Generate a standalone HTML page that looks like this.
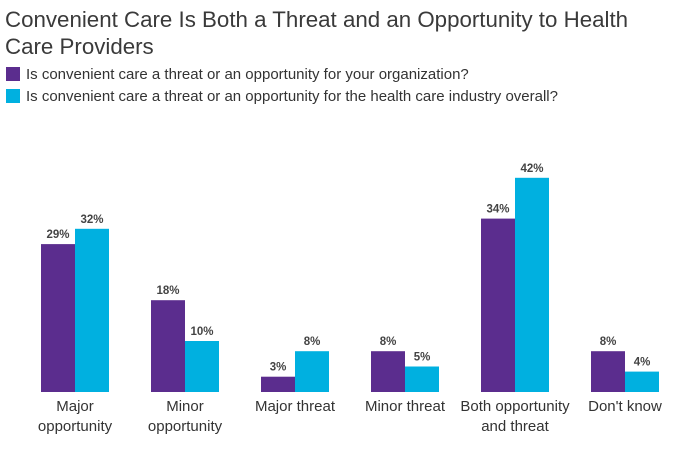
<!DOCTYPE html>
<html><head><meta charset="utf-8"><style>
body{margin:0;background:#fff;width:677px;height:445px;overflow:hidden;font-family:"Liberation Sans",sans-serif;}
</style></head><body>
<svg width="677" height="445">
<text x="5" y="27" font-size="22.3" fill="#3a3a3a">Convenient Care Is Both a Threat and an Opportunity to Health</text>
<text x="5" y="54" font-size="22.3" fill="#3a3a3a">Care Providers</text>
<rect x="6" y="67" width="14" height="14" fill="#5b2d8e"/>
<text x="26" y="79" font-size="15" fill="#333">Is convenient care a threat or an opportunity for your organization?</text>
<rect x="6" y="89" width="14" height="14" fill="#00b0e0"/>
<text x="26" y="101" font-size="15" fill="#333">Is convenient care a threat or an opportunity for the health care industry overall?</text>
<g id="bars"></g>
</svg>
<script>
const categories=[["Major","opportunity"],["Minor","opportunity"],["Major threat"],["Minor threat"],["Both opportunity","and threat"],["Don't know"]];
const orgValues=[29,18,3,8,34,8];
const industryValues=[32,10,8,5,42,4];
const base=392, scale=5.1, x0=41, step=110, bw=34;
const y=v=>base-v*scale;
const g=document.getElementById('bars');
const ns="http://www.w3.org/2000/svg";
function mk(t,a){const e=document.createElementNS(ns,t);for(const k in a)e.setAttribute(k,a[k]);g.appendChild(e);return e;}
categories.forEach((c,i)=>{
  const gx=x0+i*step;
  [[orgValues[i],"#5b2d8e",0,"org"],[industryValues[i],"#00b0e0",bw,"industry"]].forEach(([v,col,off,s])=>{
    const r=mk('rect',{x:gx+off,y:y(v),width:bw,height:v*scale,fill:col});
    
    
    const t=mk('text',{x:gx+off+bw/2,y:y(v)-6,'font-size':11.5,'font-weight':'bold',fill:'#444','text-anchor':'middle'});
    t.textContent=v+'%';
    
    
  });
  c.forEach((line,j)=>{
    const t=mk('text',{x:gx+bw,y:411+j*20,'font-size':15,fill:'#333','text-anchor':'middle'});
    t.textContent=line;
    
    
  });
});
</script>
</body></html>
